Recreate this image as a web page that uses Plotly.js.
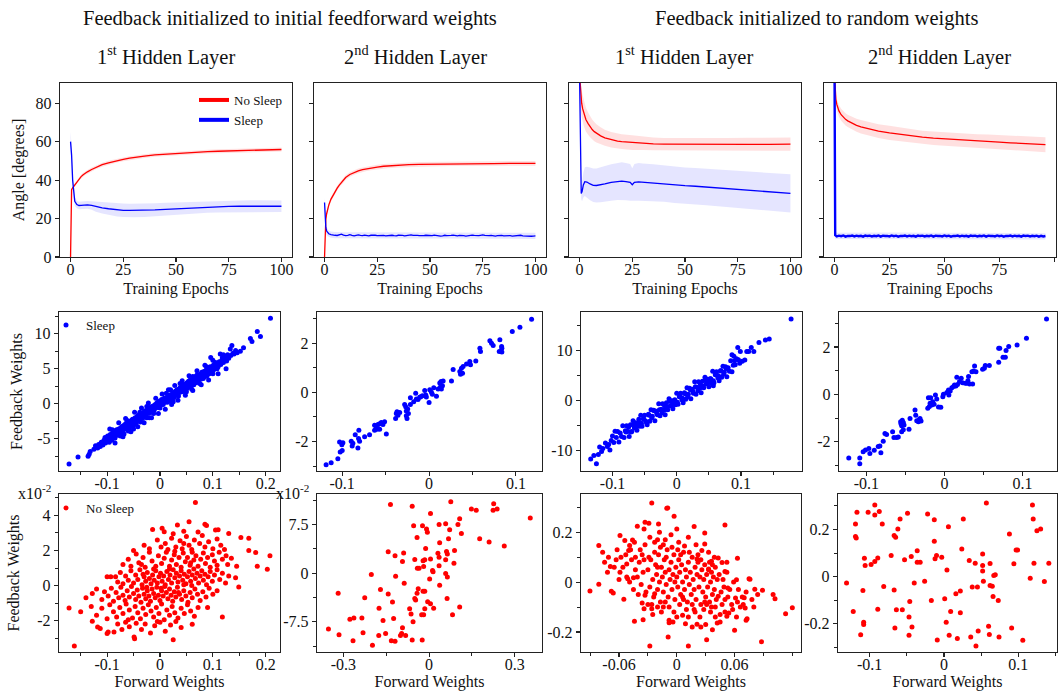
<!DOCTYPE html>
<html>
<head>
<meta charset="utf-8">
<script src="https://cdn.plot.ly/plotly-3.0.1.min.js"></script>
<style>html,body{margin:0;padding:0;background:#fff}#chart{width:1063px;height:692px}</style>
</head>
<body>
<div id="chart"></div>
<script>
// ---------------- Row 1: angle vs training epochs ----------------
// Panel 1 (feedback = initial feedforward, 1st hidden layer)
const p1Epochs = [0,0.5,1,2,3,4,5,6,7,8,10,12,15,18,20,22,25,28,30,35,40,45,50,55,60,65,70,75,80,85,90,95,100];
const p1NoSleep = [0,35,36,37.5,39,40.5,41.8,42.8,43.6,44.3,45.5,46.6,48,49,49.6,50.1,50.8,51.4,51.8,52.5,53.1,53.5,53.9,54.2,54.5,54.8,55,55.2,55.4,55.6,55.7,55.8,55.9];
const p1NoSleepSd = [0,0.8,0.8,0.9,0.9,0.9,1,1,1,1,1,1,1,1,1,1,1,1,1,1,1,1,1,1,1,1,1,1,1,1,1,1,1];
const p1Sleep = [60,53,40,29,27.3,26.8,26.9,27,27,27.1,26.8,26.2,25.6,25.1,24.8,24.5,24.3,24.2,24.2,24.3,24.5,24.8,25.1,25.4,25.7,26,26.2,26.3,26.4,26.5,26.5,26.4,26.4];
const p1SleepSd = [5,5,4,2.5,2,2,2,2,2,2,2.2,2.6,3,3.2,3.3,3.4,3.5,3.5,3.5,3.5,3.5,3.4,3.3,3.2,3.1,3,3,3,3,3,3,3,3];

// Panel 2 (feedback = initial feedforward, 2nd hidden layer)
const p2Epochs = [0,0.3,0.6,1,1.5,2,3,4,5,6,7,8,10,12,14,16,18,20,22,25,28,30,35,40,45,50,60,70,80,90,100];
const p2NoSleep = [0,14,19.5,22.5,25,27,30,32.2,34,35.8,37.4,38.9,41.3,42.9,44,44.8,45.4,45.9,46.3,46.8,47.2,47.4,47.8,48,48.2,48.3,48.5,48.6,48.6,48.7,48.7];
const p2NoSleepSd = [0,1,1,1.2,1.2,1.2,1.2,1.2,1.2,1.2,1.2,1.2,1.2,1.2,1.2,1.2,1.2,1.2,1.2,1.2,1.2,1.2,1.2,1.2,1.2,1.2,1.2,1.2,1.2,1.2,1.2];
const p2SleepEpochs = [0,0.3,0.6,1,1.5,2,3,4,5,6,7,8,9,10,11,12,13,14,15,16,17,18,19,20,21,22,23,24,25,26,27,28,29,30,31,32,33,34,35,36,37,38,39,40,41,42,43,44,45,46,47,48,49,50,51,52,53,54,55,56,57,58,59,60,61,62,63,64,65,66,67,68,69,70,71,72,73,74,75,76,77,78,79,80,81,82,83,84,85,86,87,88,89,90,91,92,93,94,95,96,97,98,99,100];
const p2Sleep = [28.3,20,15.5,13.5,12.6,12.1,11.6,
  11.6,11.3,11.2,11.5,11.9,11.4,11.1,11.3,11.6,11.2,
  11.0,11.3,11.5,11.2,11.1,11.4,11.2,11.0,11.3,11.5,
  11.3,11.1,11.2,11.4,11.2,11.0,11.2,11.5,11.3,11.1,
  11.0,11.3,11.4,11.2,11.0,11.1,11.3,11.5,11.2,11.0,
  11.2,11.1,10.9,11.1,11.3,11.2,11.0,11.1,11.4,11.2,
  11.1,10.9,11.0,11.3,11.1,11.0,11.2,11.4,11.1,11.0,
  11.2,11.3,11.1,10.9,11.1,11.2,11.4,11.2,11.0,11.1,
  11.3,11.5,11.2,11.0,11.1,11.2,11.0,10.9,11.1,11.3,
  11.2,11.0,11.1,11.3,11.1,10.9,11.0,11.2,11.1,11.3,
  11.0,10.9,11.1,11.0,10.8,10.9,11.0];
const p2SleepBandEpochs = [0,0.3,0.6,1,1.5,2,3,5,10,20,30,40,50,60,70,80,90,100];
const p2SleepBandHi = [31,24,18,15.5,14.5,13.8,13.2,13,12.9,12.9,12.8,12.8,12.7,12.7,12.7,12.7,12.6,12.6];
const p2SleepBandLo = [25,16,13,11.5,10.8,10.4,10,9.8,9.7,9.7,9.6,9.6,9.6,9.5,9.5,9.5,9.5,9.4];

// Panel 3 (feedback = random, 1st hidden layer)
const p3NoSleepEpochs = [0,0.3,0.6,1,1.5,2,3,4,5,6,7,8,10,12,15,18,20,25,30,35,40,50,60,70,80,90,100];
const p3NoSleep = [95,88,83,80,77,75,71.5,69.5,67.8,66.3,65.2,64.3,63,62,61,60.3,60,59.5,59.1,58.8,58.7,58.6,58.6,58.6,58.6,58.6,58.7];
const p3NoSleepSd = [5,6,7,7,7,6.8,6.2,5.8,5.5,5.2,5,4.8,4.5,4.2,4,3.9,3.8,3.8,3.5,3.3,3.2,3.2,3.2,3.3,3.4,3.4,3.5];
const p3SleepEpochs = [0,0.3,0.8,1.2,1.8,2.5,3.5,5,6.5,8,10,12,15,18,20,22,24,25,26,28,30,35,40,45,50,55,60,65,70,75,80,85,90,95,100];
const p3Sleep = [95,60,33,34,37.5,39.2,39,38,37.3,37.2,37.5,38,38.8,39.4,39.5,39.2,38.8,37.6,38.8,39.1,38.9,38.7,38.2,37.6,37.1,36.8,36.4,36,35.6,35.2,34.8,34.4,34,33.5,33.1];
const p3SleepSd = [5,5,3,5,6.5,7.5,8,8.5,8.7,8.8,9,9.3,9.5,9.7,9.8,9.7,9.6,8.6,9.6,9.8,9.7,9.6,9.5,9.5,9.5,9.5,9.5,9.5,9.6,9.6,9.7,9.7,9.8,9.8,9.9];

// Panel 4 (feedback = random, 2nd hidden layer)
const p4NoSleepEpochs = [0,0.3,0.6,1,1.5,2,3,4,5,6,8,10,12,15,18,20,25,28,30,32,35,40,45,50,55,60,65,70,75,80,85,90,96];
const p4NoSleep = [95,86,82,79.5,77.4,76,74,72.7,71.6,70.8,69.5,68.5,67.7,66.8,66,65.5,64.6,64.1,63.8,63.4,62.9,62.3,61.8,61.4,61,60.6,60.3,60,59.7,59.4,59.1,58.8,58.4];
const p4NoSleepSd = [3,3,3,3,3,3,3.1,3.1,3.2,3.2,3.3,3.4,3.5,3.5,3.6,3.6,3.7,3.7,3.6,3.4,3.4,3.4,3.5,3.5,3.5,3.6,3.6,3.7,3.7,3.8,3.8,3.9,3.9];
const p4SleepEpochs = [0,0.3,1,2,3,4,5,6,7,8,9,10,11,12,13,14,15,16,17,18,19,20,21,22,23,24,25,26,27,28,29,30,31,32,33,34,35,36,37,38,39,40,41,42,43,44,45,46,47,48,49,50,51,52,53,54,55,56,57,58,59,60,61,62,63,64,65,66,67,68,69,70,71,72,73,74,75,76,77,78,79,80,81,82,83,84,85,86,87,88,89,90,91,92,93,94,95,96];
const p4Sleep = [95,11.3,
  10.7,11.1,10.8,11.2,10.6,11.0,10.9,11.2,10.7,11.1,
  10.8,11.0,10.6,11.2,10.9,11.1,10.7,11.0,10.8,11.2,
  10.6,11.1,10.9,11.0,10.7,11.2,10.8,11.1,10.6,11.0,
  10.9,11.2,10.7,11.1,10.8,11.0,10.6,11.2,10.9,11.1,
  10.7,11.0,10.8,11.2,10.6,11.1,10.9,11.0,10.7,11.2,
  10.8,11.1,10.6,11.0,10.9,11.2,10.7,11.1,10.8,11.0,
  10.6,11.2,10.9,11.1,10.7,11.0,10.8,11.2,10.6,11.1,
  10.9,11.0,10.7,11.2,10.8,11.1,10.6,11.0,10.9,11.2,
  10.7,11.1,10.8,11.0,10.6,11.2,10.9,11.1,10.7,11.0,
  10.8,11.1,10.6,11.0,10.7,10.9];
const p4SleepBandEpochs = [0,0.3,1,10,20,30,40,50,60,70,80,90,96];
const p4SleepBandHi = [95,13,12.6,12.7,12.6,12.7,12.6,12.6,12.5,12.6,12.5,12.5,12.4];
const p4SleepBandLo = [90,9.5,9.3,9.3,9.2,9.3,9.2,9.2,9.2,9.2,9.1,9.1,9.1];

// ---------------- Row 2: Sleep, feedback vs forward weights ----------------
const r2p1Sleep = [[-0.172,-8.6],[-0.155,-7.6],[-0.136,-7.5],[-0.134,-7.2],[-0.132,-6.8],[-0.125,-6.5],[-0.122,-6.0],[-0.118,-6.3],[-0.116,-5.8],[-0.113,-6.1],[-0.111,-5.5],[-0.108,-5.9],[-0.106,-5.2],[-0.104,-4.8],[-0.103,-5.6],[-0.1,-5.3],[-0.099,-4.6],[-0.097,-5.0],[-0.096,-5.5],[-0.094,-4.4],[-0.093,-4.9],[-0.091,-5.2],[-0.09,-4.2],[-0.089,-4.7],[-0.087,-4.4],[-0.086,-3.9],[-0.085,-4.9],[-0.083,-4.2],[-0.082,-3.7],[-0.081,-4.5],[-0.08,-4.0],[-0.078,-3.6],[-0.077,-4.3],[-0.076,-3.9],[-0.074,-3.4],[-0.073,-4.1],[-0.072,-3.7],[-0.071,-3.2],[-0.07,-3.9],[-0.069,-3.5],[-0.068,-4.3],[-0.067,-3.0],[-0.066,-3.6],[-0.065,-3.3],[-0.064,-2.8],[-0.063,-3.5],[-0.062,-3.1],[-0.061,-2.6],[-0.06,-3.3],[-0.059,-2.9],[-0.058,-3.6],[-0.057,-2.5],[-0.056,-2.9],[-0.055,-3.2],[-0.054,-2.4],[-0.053,-2.8],[-0.052,-2.2],[-0.051,-2.7],[-0.05,-3.1],[-0.049,-2.3],[-0.048,-2.6],[-0.047,-2.0],[-0.046,-2.5],[-0.045,-2.8],[-0.044,-2.1],[-0.043,-1.8],[-0.042,-2.4],[-0.041,-2.0],[-0.04,-1.6],[-0.039,-2.2],[-0.038,-1.9],[-0.037,-2.6],[-0.036,-1.5],[-0.035,-1.9],[-0.034,-1.4],[-0.033,-2.1],[-0.032,-1.7],[-0.031,-1.2],[-0.03,-1.8],[-0.029,-1.5],[-0.028,-1.0],[-0.027,-1.6],[-0.026,-1.2],[-0.025,-2.0],[-0.024,-0.9],[-0.023,-1.4],[-0.022,-1.1],[-0.021,-0.7],[-0.02,-1.3],[-0.019,-0.9],[-0.018,-0.5],[-0.017,-1.2],[-0.016,-0.8],[-0.015,-0.4],[-0.014,-1.0],[-0.013,-0.6],[-0.012,-0.3],[-0.011,-0.9],[-0.01,-0.5],[-0.009,-0.1],[-0.008,-0.6],[-0.007,-0.3],[-0.006,0.1],[-0.005,-0.5],[-0.004,-0.1],[-0.003,0.3],[-0.002,-0.3],[-0.001,0.0],[0.0,0.4],[0.001,-0.2],[0.002,0.2],[0.003,0.6],[0.004,0.0],[0.005,0.4],[0.006,-0.1],[0.007,0.5],[0.008,0.8],[0.009,0.2],[0.01,0.6],[0.011,0.3],[0.012,0.9],[0.013,0.5],[0.014,0.2],[0.015,1.0],[0.016,0.6],[0.017,1.2],[0.018,0.4],[0.019,0.9],[0.02,1.3],[0.021,0.7],[0.022,1.1],[0.023,0.5],[0.024,1.5],[0.025,1.0],[0.026,1.6],[0.027,0.9],[0.028,1.4],[0.029,1.8],[0.03,1.2],[0.031,1.6],[0.032,2.0],[0.033,1.3],[0.034,1.8],[0.035,1.1],[0.036,2.1],[0.037,1.6],[0.038,2.3],[0.039,1.8],[0.04,2.0],[0.041,2.5],[0.042,1.7],[0.043,2.2],[0.044,2.7],[0.045,2.0],[0.046,2.4],[0.047,1.9],[0.048,2.8],[0.049,2.3],[0.05,2.6],[0.051,3.0],[0.052,2.2],[0.053,2.7],[0.054,3.2],[0.055,2.5],[0.056,2.9],[0.057,3.4],[0.058,2.6],[0.059,3.1],[0.06,2.8],[0.061,3.5],[0.062,3.0],[0.063,3.3],[0.064,2.7],[0.065,3.6],[0.066,3.2],[0.067,3.9],[0.068,3.0],[0.069,3.5],[0.07,4.1],[0.071,3.3],[0.072,3.7],[0.073,3.4],[0.074,4.0],[0.075,3.6],[0.076,4.2],[0.077,3.5],[0.078,3.9],[0.079,4.5],[0.08,3.8],[0.081,4.3],[0.082,3.6],[0.083,4.6],[0.084,4.1],[0.085,4.4],[0.086,3.9],[0.087,4.8],[0.088,4.3],[0.089,4.0],[0.09,4.9],[0.091,4.5],[0.092,5.1],[0.093,4.3],[0.094,4.8],[0.095,5.3],[0.096,6.6],[0.097,4.6],[0.098,5.0],[0.1,5.4],[0.101,4.8],[0.102,5.6],[0.104,5.1],[0.105,5.9],[0.106,5.4],[0.108,5.0],[0.109,5.7],[0.11,5.3],[0.112,6.0],[0.114,7.1],[0.115,5.6],[0.117,6.2],[0.118,6.6],[0.12,5.9],[0.122,6.4],[0.124,6.8],[0.126,6.1],[0.128,7.0],[0.13,6.5],[0.133,7.8],[0.134,6.9],[0.136,8.3],[0.138,7.2],[0.14,7.1],[0.143,7.6],[0.146,7.3],[0.152,7.5],[0.158,8.0],[0.171,9.3],[0.174,8.9],[0.184,10.3],[0.19,9.6],[0.209,12.2],
  [-0.09,-3.7],[-0.075,-4.6],[-0.062,-2.4],[-0.05,-3.6],[-0.038,-1.2],[-0.025,-0.4],[-0.012,-1.4],[0.0,-0.6],[0.012,1.5],[0.025,0.3],[0.038,2.9],[0.05,1.7],[0.062,3.9],[0.075,2.9],[0.088,5.3],[0.1,4.3],[0.02,2.0],[-0.02,-2.0],[0.06,2.1],[-0.06,-3.9],
  [-0.095,-3.6],[-0.085,-5.6],[-0.078,-2.7],[-0.07,-4.7],[-0.065,-2.1],[-0.055,-4.0],[-0.048,-1.2],[-0.042,-3.3],[-0.035,-0.6],[-0.03,-2.7],[-0.022,0.1],[-0.016,-2.0],[-0.008,0.8],[-0.003,-1.4],[0.004,1.4],[0.01,-0.8],[0.016,2.0],[0.022,-0.1],[0.028,2.6],[0.034,0.5],[0.042,3.3],[0.048,1.2],[0.055,4.0],[0.062,1.9],[0.07,4.7],[0.078,2.7],[0.085,5.5],[0.092,3.4],[0.1,6.2],[0.11,4.3],[0.12,7.0],[0.125,5.0]];

const r2p2Sleep = [[-0.1185,-2.95],[-0.1127,-2.86],[-0.105,-2.70],[-0.103,-2.02],[-0.1004,-2.13],[-0.0992,-2.05],[-0.1023,-2.43],[-0.1,-2.37],[-0.0896,-1.99],[-0.0877,-2.07],[-0.0885,-2.18],[-0.085,-1.72],[-0.0819,-2.26],[-0.0812,-1.88],[-0.08,-1.99],[-0.0808,-1.54],[-0.0742,-1.81],[-0.0685,-1.72],[-0.0627,-1.54],[-0.0627,-1.34],[-0.0608,-1.41],[-0.06,-1.5],[-0.0588,-1.31],[-0.0569,-1.28],[-0.055,-1.23],[-0.0531,-1.31],[-0.0512,-1.2],[-0.0569,-1.5],[-0.0492,-1.69],[-0.0385,-1.06],[-0.0377,-0.86],[-0.0369,-0.79],[-0.0358,-0.93],[-0.0338,-0.82],[-0.0281,-0.49],[-0.0269,-0.59],[-0.0262,-0.76],[-0.0262,-0.95],[-0.0254,-1.06],[-0.0246,-0.68],[-0.0238,-0.86],[-0.0215,-0.22],[-0.0215,-0.49],[-0.0177,-0.38],[-0.0154,-0.04],[-0.0146,-0.27],[-0.0127,-0.29],[-0.0108,-0.2],[-0.0096,-0.18],[-0.0077,-0.14],[-0.005,0.08],[-0.0038,-0.11],[-0.0031,-0.19],[0,-0.41],[0.0008,0.11],[0.0027,0],[0.0038,-0.08],[0.0054,0.19],[0.0085,-0.16],[0.0104,0.14],[0.0131,0.22],[0.0142,0.14],[0.0154,0.27],[0.0138,0.44],[0.0162,0.46],[0.0123,0.38],[0.0258,0.46],[0.0277,0.93],[0.0354,0.85],[0.0362,0.74],[0.0373,0.98],[0.0392,1.05],[0.0385,0.78],[0.0431,1.15],[0.0469,1.26],[0.0477,1.12],[0.0538,1.28],[0.0585,1.8],[0.0592,1.66],[0.07,2.1],[0.0719,2.0],[0.0738,1.91],[0.0815,2.14],[0.0808,1.66],[0.0835,1.87],[0.0838,1.64],[0.0838,1.8],[0.0958,2.48],[0.1046,2.65],[0.118,2.97]];

const r2p3Sleep = [[-0.1,-7.2],[-0.098,-8.5],[-0.096,-6.2],[-0.094,-7.5],[-0.092,-6.3],[-0.09,-8.4],[-0.088,-6.6],[-0.086,-7.3],[-0.084,-5.1],[-0.082,-7.5],[-0.08,-6.1],[-0.078,-5.1],[-0.076,-6.3],[-0.074,-7.3],[-0.072,-4.9],[-0.07,-6.3],[-0.068,-4.1],[-0.066,-5.5],[-0.064,-4.5],[-0.062,-6.0],[-0.06,-4.5],[-0.058,-5.2],[-0.056,-3.0],[-0.054,-5.2],[-0.052,-3.7],[-0.05,-3.0],[-0.048,-4.2],[-0.046,-4.9],[-0.044,-2.8],[-0.042,-4.2],[-0.04,-1.9],[-0.038,-3.2],[-0.036,-2.0],[-0.034,-4.1],[-0.032,-2.2],[-0.03,-2.9],[-0.028,-0.7],[-0.026,-3.1],[-0.024,-1.8],[-0.022,-0.7],[-0.02,-2.0],[-0.018,-2.9],[-0.016,-0.5],[-0.014,-1.9],[-0.012,0.3],[-0.01,-1.1],[-0.008,-0.1],[-0.006,-1.7],[-0.004,-0.1],[-0.002,-0.9],[0.0,1.4],[0.002,-0.8],[0.004,0.7],[0.006,1.4],[0.008,0.1],[0.01,-0.5],[0.012,1.5],[0.014,0.2],[0.016,2.5],[0.018,1.2],[0.02,2.4],[0.022,0.3],[0.024,2.2],[0.026,1.4],[0.028,3.7],[0.03,1.2],[0.032,2.6],[0.034,3.7],[0.036,2.4],[0.038,1.5],[0.04,3.8],[0.042,2.5],[0.044,4.6],[0.046,3.3],[0.048,4.2],[0.05,2.7],[0.052,4.3],[0.054,3.5],[0.056,5.8],[0.058,3.5],[0.06,5.1],[0.062,5.7],[0.064,4.5],[0.066,3.9],[0.068,5.9],[0.07,4.6],[0.072,6.8],[0.074,5.6],[0.076,6.7],[0.078,4.7],[0.08,6.5],[0.082,5.8],[0.084,7.9],[0.086,5.7],[0.088,7.0],[0.09,7.9],
  [-0.079,-6.4],[-0.075,-5.4],[-0.071,-6.4],[-0.067,-4.9],[-0.063,-5.3],[-0.059,-3.8],[-0.055,-4.6],[-0.051,-3.8],[-0.047,-4.5],[-0.043,-3.0],[-0.039,-3.5],[-0.035,-2.1],[-0.031,-2.7],[-0.027,-1.9],[-0.023,-2.5],[-0.019,-1.1],[-0.015,-1.4],[-0.011,-0.2],[-0.007,-0.9],[-0.003,0.1],[0.001,-0.4],[0.005,1.0],[0.009,0.4],[0.013,1.3],[0.017,0.7],[0.021,2.1],[0.025,1.8],[0.029,2.7],[0.033,1.9],[0.037,3.2],[0.041,2.8],[0.045,4.1],[0.049,3.5],[0.053,4.3],[0.057,3.9],[0.061,5.2],[0.065,4.9],[0.069,5.9],[0.073,5.2],[0.077,6.3],
  [-0.1339,-11.8],[-0.125,-12.75],[-0.129,-11.1],[-0.122,-10.9],[-0.117,-10.3],[-0.115,-9.7],[-0.108,-9.3],[-0.106,-8.9],[-0.104,-10.0],[-0.111,-8.6],[-0.102,-8.1],[-0.12,-9.4],
  [0.178,16.3],[0.144,12.3],[0.138,12.1],[0.128,11.6],[0.116,10.6],[0.12,9.8],[0.112,9.8],[0.109,9.8],[0.095,10.6],[0.099,9.8],[0.086,9.1],[0.089,8.8],[0.106,8.05],[0.102,7.8],[0.096,8.1],[0.091,7.1],[0.057,2.9],[0.093,8.3],[0.098,7.4]];

const r2p4Sleep = [[-0.1225,-2.69],[-0.1084,-2.93],[-0.1084,-2.69],[-0.1041,-2.43],[-0.1011,-2.35],[-0.0968,-2.29],[-0.0955,-2.5],[-0.0899,-2.36],[-0.0848,-2.2],[-0.0827,-2.18],[-0.0814,-2.47],[-0.0784,-1.98],[-0.0762,-1.65],[-0.0741,-1.7],[-0.0664,-1.58],[-0.0647,-1.82],[-0.0612,-1.82],[-0.0591,-1.8],[-0.0548,-1.58],[-0.0527,-1.5],[-0.0454,-1.48],[-0.0561,-1.16],[-0.0557,-1.24],[-0.0548,-1.33],[-0.0527,-1.19],[-0.0518,-1.3],[-0.054,-1.09],[-0.0441,-1.02],[-0.0377,-0.66],[-0.0368,-0.88],[-0.0355,-1.12],[-0.0334,-1.16],[-0.0321,-1.06],[-0.0313,-1.02],[-0.03,-1.13],[-0.0214,-0.59],[-0.0193,-0.51],[-0.0184,-0.38],[-0.0206,-0.14],[-0.0176,-0.14],[-0.0163,-0.45],[-0.015,-0.31],[-0.0133,-0.42],[-0.0116,-0.03],[-0.0099,-0.2],[-0.0077,-0.54],[-0.0047,-0.55],[-0.0021,-0.1],[-0.0013,0],[0.003,0.08],[0.0051,0.18],[0.0073,0.14],[0.0056,-0.03],[0.0094,0.28],[0.0116,0.33],[0.0128,0.4],[0.0146,0.35],[0.0158,0.72],[0.0167,0.42],[0.0193,0.54],[0.0214,0.68],[0.0231,0.49],[0.0266,0.47],[0.0287,0.47],[0.03,0.57],[0.0308,0.75],[0.0321,0.44],[0.0351,0.96],[0.036,0.44],[0.0373,0.99],[0.0385,1.2],[0.0403,0.96],[0.0488,1.06],[0.051,1.1],[0.0522,1.22],[0.0574,1.22],[0.0694,1.36],[0.0694,1.95],[0.0707,1.95],[0.0749,1.57],[0.0779,1.57],[0.0788,1.85],[0.0822,2.02],[0.0929,2.09],[0.1049,2.37],[0.1306,3.18]];

// ---------------- Row 3: No Sleep, feedback vs forward weights ----------------
const r3p1NoSleep = [[0.067,4.74],[-0.014,3.2],[0.004,3.26],[0.008,3.07],[0.033,3.45],[0.055,3.64],[0.085,3.49],[0.088,3.42],[0.105,3.17],[0.11,3.18],[0.025,2.95],[0.045,3.1],[0.072,3.05],[0.13,2.97],
  [-0.03,2.3],[-0.02,2.1],[-0.005,2.6],[0.01,2.4],[0.015,2.05],[0.022,2.7],[0.03,2.2],[0.038,2.55],[0.042,2.1],[0.05,2.8],[0.055,2.3],[0.06,2.05],[0.065,2.6],[0.075,2.4],[0.08,2.85],[0.085,2.2],[0.092,2.5],[0.1,2.1],[0.108,2.65],[0.115,2.3],[0.122,2.05],[0.153,2.74],[0.168,2.7],[0.168,2.0],[0.181,1.89],[-0.05,2.0],[0.002,2.2],[0.045,2.4],
  [-0.07,1.2],[-0.06,1.5],[-0.055,1.1],[-0.045,1.8],[-0.04,1.3],[-0.032,1.6],[-0.028,1.05],[-0.02,1.9],[-0.015,1.4],[-0.008,1.1],[-0.003,1.7],[0.003,1.25],[0.008,1.55],[0.012,1.9],[0.018,1.1],[0.022,1.45],[0.027,1.75],[0.031,1.2],[0.036,1.6],[0.04,1.05],[0.044,1.85],[0.048,1.35],[0.052,1.6],[0.057,1.15],[0.061,1.9],[0.064,1.45],[0.068,1.7],[0.072,1.1],[0.077,1.5],[0.082,1.85],[0.086,1.25],[0.09,1.6],[0.095,1.05],[0.099,1.75],[0.103,1.4],[0.108,1.15],[0.112,1.9],[0.118,1.5],[0.125,1.7],[0.128,1.2],[0.135,1.55],[0.145,1.1],[0.184,1.1],[0.208,1.7],[0.028,1.95],[0.058,1.3],[-0.035,1.2],
  [-0.1,0.5],[-0.093,0.5],[-0.084,0.5],[-0.08,0.2],[-0.075,0.75],[-0.07,0.1],[-0.065,0.55],[-0.06,0.3],[-0.055,0.85],[-0.05,0.15],[-0.046,0.6],[-0.042,0.35],[-0.038,0.9],[-0.034,0.05],[-0.03,0.5],[-0.027,0.25],[-0.024,0.75],[-0.02,0.4],[-0.017,0.1],[-0.014,0.6],[-0.011,0.3],[-0.008,0.85],[-0.005,0.15],[-0.002,0.5],[0.001,0.7],[0.004,0.25],[0.007,0.55],[0.01,0.05],[0.013,0.8],[0.016,0.35],[0.019,0.6],[0.022,0.15],[0.025,0.9],[0.028,0.45],[0.031,0.7],[0.034,0.2],[0.037,0.55],[0.04,0.85],[0.043,0.3],[0.046,0.65],[0.049,0.1],[0.052,0.5],[0.055,0.8],[0.058,0.25],[0.061,0.6],[0.064,0.95],[0.067,0.4],[0.07,0.7],[0.073,0.15],[0.076,0.55],[0.079,0.85],[0.082,0.3],[0.085,0.65],[0.088,0.05],[0.091,0.5],[0.095,0.8],[0.099,0.25],[0.103,0.6],[0.108,0.9],[0.113,0.35],[0.118,0.7],[0.124,0.15],[0.13,0.55],[0.143,0.44],[0.203,0.93],[-0.012,0.95],[0.018,0.95],[0.045,0.05],[0.06,0.0],[-0.032,0.65],
  [-0.14,-0.69],[-0.128,-0.46],[-0.12,-0.2],[-0.11,-0.8],[-0.105,-0.35],[-0.098,-0.6],[-0.092,-0.15],[-0.088,-0.9],[-0.083,-0.4],[-0.078,-0.7],[-0.074,-0.1],[-0.07,-0.55],[-0.066,-0.85],[-0.062,-0.3],[-0.058,-0.65],[-0.054,-0.05],[-0.05,-0.45],[-0.046,-0.8],[-0.043,-0.25],[-0.04,-0.6],[-0.036,-0.95],[-0.033,-0.15],[-0.03,-0.5],[-0.027,-0.75],[-0.024,-0.3],[-0.021,-0.6],[-0.018,-0.9],[-0.015,-0.2],[-0.012,-0.45],[-0.009,-0.7],[-0.006,-0.1],[-0.003,-0.55],[0.0,-0.85],[0.003,-0.3],[0.006,-0.6],[0.009,-0.05],[0.012,-0.4],[0.015,-0.75],[0.018,-0.2],[0.021,-0.55],[0.024,-0.9],[0.027,-0.35],[0.03,-0.65],[0.033,-0.1],[0.037,-0.5],[0.041,-0.8],[0.045,-0.3],[0.049,-0.6],[0.053,-0.95],[0.057,-0.4],[0.061,-0.7],[0.066,-0.2],[0.071,-0.5],[0.076,-0.85],[0.081,-0.35],[0.087,-0.65],[0.093,-0.15],[0.1,-0.5],[0.108,-0.3],[0.149,-0.08],[-0.025,-0.1],[0.002,-0.15],[0.035,-0.4],
  [-0.15,-1.5],[-0.13,-1.2],[-0.12,-1.7],[-0.11,-1.3],[-0.1,-1.9],[-0.095,-1.1],[-0.088,-1.5],[-0.082,-1.8],[-0.076,-1.25],[-0.07,-1.6],[-0.064,-1.05],[-0.058,-1.4],[-0.052,-1.85],[-0.047,-1.2],[-0.042,-1.55],[-0.037,-1.9],[-0.032,-1.3],[-0.027,-1.65],[-0.022,-1.1],[-0.017,-1.45],[-0.012,-1.8],[-0.007,-1.25],[-0.002,-1.6],[0.003,-1.05],[0.008,-1.95],[0.013,-1.4],[0.018,-1.7],[0.023,-1.2],[0.028,-1.55],[0.034,-1.85],[0.04,-1.3],[0.046,-1.6],[0.052,-1.1],[0.058,-1.45],[0.065,-1.75],[0.072,-1.25],[0.09,-1.25],[0.118,-1.79],[-0.06,-1.95],[-0.172,-1.28],
  [-0.128,-2.04],[-0.118,-2.36],[-0.113,-2.45],[-0.1,-2.74],[-0.098,-2.65],[-0.087,-2.65],[-0.08,-2.2],[-0.072,-2.5],[-0.065,-2.1],[-0.058,-2.35],[-0.049,-2.93],[-0.048,-3.03],[-0.045,-2.15],[-0.035,-2.5],[-0.028,-2.2],[-0.018,-2.7],[-0.01,-2.3],[0.0,-2.1],[0.01,-2.6],[0.02,-2.25],[0.03,-2.05],[0.04,-2.4],[0.061,-2.21],[-0.005,-2.05],
  [-0.162,-3.45],[0.025,-3.09]];

const r3p2NoSleep = [[-0.135,10.6],[-0.059,10.3],[0.076,11.0],[0.005,9.2],[0.148,9.9],[0.165,9.7],[0.226,10.7],[0.224,9.7],[0.238,9.9],[0.354,8.5],[-0.054,7.3],[-0.023,7.3],[-0.009,6.8],[-0.006,6.3],[0.035,7.5],[0.058,7.6],[0.101,7.5],[0.107,8.4],[0.072,6.7],[0.113,6.1],[-0.042,5.5],[0.037,4.7],[0.068,5.3],[0.177,5.3],[0.21,4.8],[0.263,4.2],[-0.143,3.3],[-0.119,2.7],[-0.089,3.1],[-0.093,1.8],[-0.05,2.1],[-0.012,3.8],[-0.021,1.9],[-0.015,2.05],[0.005,2.2],[0.031,3.08],[0.035,2.46],[0.061,3.33],[0.064,2.97],[0.058,2.05],[0.089,3.49],[0.087,1.54],[-0.041,0.77],[-0.035,0.77],[-0.019,1.03],[0.035,1.13],[0.012,0.41],[0.014,0.2],[-0.202,-0.2],[-0.117,-0.46],[0.058,-0.05],[0.064,-0.6],[0.002,-0.9],[-0.087,-1.54],[0.037,-1.85],[-0.17,-2.5],[-0.038,-2.4],[-0.021,-2.8],[-0.015,-2.8],[-0.318,-3.1],[-0.143,-3.2],[-0.042,-3.1],[-0.225,-3.8],[-0.05,-3.9],[-0.047,-4.15],[0.063,-3.9],[-0.128,-4.46],[-0.005,-4.4],[0.005,-4.7],[-0.175,-5.4],[-0.068,-5.5],[-0.015,-5.5],[0.016,-5.4],[0.107,-5.2],[-0.063,-6.3],[-0.026,-6.4],[-0.019,-6.4],[0.082,-6.4],[-0.263,-6.9],[-0.277,-7.1],[-0.235,-6.9],[-0.161,-7.3],[-0.124,-7.0],[-0.056,-7.5],[-0.352,-8.6],[-0.315,-9.5],[-0.231,-9.2],[-0.266,-10.4],[-0.198,-11.1],[-0.176,-9.6],[-0.152,-9.3],[-0.132,-10.4],[-0.119,-10.5],[-0.1,-9.6],[-0.096,-9.3],[-0.093,-8.4],[-0.082,-9.6],[-0.059,-10.3],[-0.024,-10.3]];

const r3p3NoSleep = [[-0.0902,-0.036],[-0.081,-0.009],[-0.081,0.147],[-0.026,0.317],[-0.0104,0.296],[-0.0094,0.297],[-0.0028,0.264],[0.0,0.213],[0.018,0.223],[0.029,0.197],[0.05,0.229],[0.063,0.096],[0.12,-0.103],[0.113,-0.127],[0.102,-0.067],[0.1,-0.05],[0.088,-0.239],[0.089,-0.033],[0.081,-0.029],[0.084,-0.05],[0.075,0.013],[0.076,0.011],[0.06,-0.193],[0.062,0.009],[0.031,-0.231],[0.012,-0.256],[-0.028,-0.256],[-0.009,-0.22],[-0.044,-0.157],[-0.035,-0.151],[-0.068,-0.037],[-0.066,-0.044],[-0.055,-0.069],[-0.075,0.08],[-0.069,0.063],[-0.059,0.187],[-0.041,0.224],[-0.033,0.24],[-0.029,0.236],[-0.019,0.233],[-0.034,0.213],
  [-0.071,0.1],[-0.062,0.13],[-0.054,0.167],[-0.049,0.147],[-0.046,0.169],[-0.05,0.127],[-0.043,0.1],[-0.052,0.073],[-0.059,0.04],[-0.045,0.017],[-0.051,0.013],[-0.034,-0.107],[-0.036,-0.084],[-0.033,-0.053],[-0.026,-0.107],[-0.023,-0.047],[-0.016,-0.12],[-0.008,-0.153],[-0.008,-0.163],[0.006,-0.133],[0.009,-0.167],[0.016,-0.18],[0.021,-0.169],[0.025,-0.18],[0.036,-0.1],[0.037,-0.191],[0.042,-0.164],[0.052,-0.137],[0.054,-0.124],[0.061,-0.064],[0.071,-0.104],[0.073,-0.147],[0.072,-0.153],[0.08,-0.1],[0.07,-0.063],[0.062,-0.14],[0.05,-0.12],[0.043,-0.057],[0.049,-0.02],[0.053,-0.024],[0.05,0.043],[0.047,0.079],[0.052,0.08],[0.043,0.097],[0.036,0.084],[0.033,0.053],[0.029,0.153],[0.026,0.127],[0.021,0.093],
  [-0.03,0.05],[-0.028,-0.02],[-0.027,0.09],[-0.025,0.01],[-0.024,-0.06],[-0.022,0.07],[-0.021,0.03],[-0.02,-0.03],[-0.019,0.11],[-0.018,0.0],[-0.017,-0.08],[-0.016,0.06],[-0.015,0.02],[-0.014,-0.04],[-0.013,0.09],[-0.012,0.04],[-0.011,-0.01],[-0.01,0.13],[-0.009,-0.06],[-0.008,0.05],[-0.007,0.01],[-0.006,0.08],[-0.005,-0.03],[-0.004,0.03],[-0.003,0.11],[-0.002,-0.07],[-0.001,0.06],[0.0,0.02],[0.001,-0.02],[0.002,0.09],[0.003,0.04],[0.004,-0.05],[0.005,0.07],[0.006,0.0],[0.007,0.12],[0.008,-0.03],[0.009,0.05],[0.01,0.02],[0.011,-0.08],[0.012,0.08],[0.013,-0.01],[0.014,0.04],[0.015,-0.05],[0.016,0.1],[0.017,0.01],[0.018,-0.03],[0.019,0.06],[0.02,-0.07],[0.021,0.03],[0.022,0.08],[0.023,-0.02],[0.024,0.02],[0.025,-0.09],[0.026,0.05],[0.027,-0.04],[0.028,0.01],[0.029,0.07],[0.03,-0.06],[0.031,0.03],[0.032,-0.02],[0.033,0.05],[0.034,-0.08],[0.035,0.0],[0.036,0.04],[0.037,-0.05],[0.038,0.02],[0.039,-0.03],[0.04,0.06],[0.041,-0.07],[0.042,0.01],
  [-0.029,0.1],[-0.026,-0.09],[-0.023,0.12],[-0.02,0.06],[-0.017,0.14],[-0.014,-0.1],[-0.011,0.1],[-0.008,-0.1],[-0.005,0.14],[-0.002,0.0],[0.001,0.13],[0.004,0.11],[0.007,-0.07],[0.01,-0.11],[0.013,0.12],[0.016,-0.09],[0.019,-0.12],[0.022,0.11],[0.025,0.09],[0.028,-0.11],[0.031,-0.09],[0.034,0.08],[0.037,0.07],[0.04,-0.1],[0.044,0.03],[0.046,-0.04],[0.048,0.01],[0.05,-0.07],[0.052,0.04],[0.055,-0.03],[0.057,-0.09],[0.059,0.0],[0.064,-0.03],[0.066,-0.1],[0.068,-0.06],[0.045,-0.13],[0.039,0.1],[0.002,0.16],[-0.012,0.17],[0.012,0.18],[-0.006,0.19],[0.008,0.145],[0.02,0.15],[0.033,0.12],
  [-0.035,0.04],[-0.037,-0.01],[-0.039,0.08],[-0.041,0.02],[-0.043,0.05],[-0.045,-0.03],[-0.047,0.09],[-0.049,0.0],[-0.053,0.11],[-0.056,0.06],[-0.058,0.1],[-0.06,0.01],[-0.063,0.09],[-0.065,0.06],[-0.072,0.04],[-0.077,0.12],[-0.033,0.15],[-0.038,0.13],[-0.032,-0.04],[-0.036,0.11],[-0.04,-0.05],[-0.048,0.13],[-0.052,0.02],[-0.034,0.09],[-0.044,0.16],[-0.028,0.18],[-0.023,0.16],[-0.018,0.2],[-0.014,0.15],[-0.02,0.17],
  [0.006,-0.06],[0.012,-0.14],[0.018,-0.11],[0.024,-0.14],[0.029,-0.08],[0.035,-0.12],[0.04,-0.14],[0.047,-0.09],[0.053,-0.06],[0.058,-0.11],[0.003,-0.09],[-0.003,-0.12],[-0.012,-0.08],[-0.02,-0.1],[-0.025,-0.13],[-0.03,-0.09],[0.063,-0.08],[0.069,-0.09],[0.072,-0.04],[0.078,-0.07],[0.045,-0.16],[0.03,-0.17],[-0.004,-0.16],[0.0,-0.14]];

const r3p4NoSleep = [[-0.131,-0.028],[-0.117,0.273],[-0.119,0.223],[-0.119,0.17],[-0.118,0.164],[-0.122,-0.149],[-0.112,-0.248],[-0.109,-0.059],[-0.108,-0.194],[-0.108,-0.204],[-0.107,0.078],[-0.106,0.047],[-0.102,0.273],[-0.098,0.051],[-0.093,0.064],[-0.089,0.079],[-0.093,0.304],[-0.093,0.262],[-0.087,0.277],[-0.089,-0.139],[-0.083,0.223],[-0.081,-0.042],[-0.071,0.089],[-0.067,-0.057],[-0.067,0.174],[-0.065,0.167],[-0.062,0.202],[-0.066,-0.219],[-0.064,-0.141],[-0.059,0.245],[-0.056,-0.141],[-0.053,0.071],[-0.049,0.269],[-0.046,-0.106],[-0.047,-0.25],[-0.047,-0.172],[-0.044,0.085],[-0.043,-0.215],[-0.04,-0.028],[-0.036,0.061],[-0.032,0.061],[-0.036,0.11],[-0.026,-0.02],[-0.022,0.266],[-0.017,-0.102],[-0.013,0.242],[-0.013,0.15],[-0.012,0.076],[-0.01,0.089],[-0.009,-0.27],[-0.003,0.082],[0.001,-0.095],[0.003,-0.194],[0.004,0.028],[0.006,0.212],[0.007,-0.25],[0.009,-0.149],[0.016,-0.073],[0.022,-0.062],[0.018,-0.264],[0.022,-0.154],[0.024,0.117],[0.026,0.245],[0.036,-0.257],[0.034,0.068],[0.038,-0.045],[0.045,-0.045],[0.043,-0.296],[0.046,-0.232],[0.042,0.057],[0.052,0.096],[0.052,0.047],[0.052,0.023],[0.053,-0.02],[0.057,0.313],[0.06,-0.212],[0.061,-0.247],[0.062,0.055],[0.062,-0.038],[0.065,-0.041],[0.067,0.004],[0.069,0.008],[0.066,-0.085],[0.073,-0.102],[0.074,-0.257],[0.088,0.181],[0.091,-0.219],[0.094,0.054],[0.097,0.113],[0.099,0.113],[0.106,-0.271],[0.116,-0.007],[0.119,0.304],[0.12,0.245],[0.121,0.057],[0.125,0.195],[0.13,0.202],[0.135,-0.021],[0.141,0.057]];

// ---------------- Tick labels ----------------
const epochTicks = [0,25,50,75,100];
const angleTicks = [0,20,40,60,80];
const fwd01Ticks = [-0.1,0,0.1], fwd01Labels = ['-0.1','0','0.1'];
const fwd012Ticks = [-0.1,0,0.1,0.2], fwd012Labels = ['-0.1','0','0.1','0.2'];
const fwd03Ticks = [-0.3,0,0.3], fwd03Labels = ['-0.3','0','0.3'];
const fwd006Ticks = [-0.06,0,0.06], fwd006Labels = ['-0.06','0','0.06'];
const r2p1YTicks = [-5,0,5,10], r2p1YLabels = ['-5','0','5','10'];
const pm2Ticks = [-2,0,2], pm2Labels = ['-2','0','2'];
const pm10Ticks = [-10,0,10], pm10Labels = ['-10','0','10'];
const r3p1YTicks = [-2,0,2,4], r3p1YLabels = ['-2','0','2','4'];
const r3p2YTicks = [-7.5,0,7.5], r3p2YLabels = ['-7.5','0','7.5'];
const pm02Ticks = [-0.2,0,0.2], pm02Labels = ['-0.2','0','0.2'];

// ---------------- Build figure ----------------
const W = 1063, H = 692;
const FONT = 'Liberation Serif, Times New Roman, serif';
const RED = '#ff0000', BLUE = '#0000ff';
const RED_BAND = 'rgba(255,0,0,0.12)', BLUE_BAND = 'rgba(0,0,255,0.10)';
const AXC = '#222';
const xid = k => k === 1 ? 'x' : 'x' + k;
const yid = k => k === 1 ? 'y' : 'y' + k;
const xkey = k => k === 1 ? 'xaxis' : 'xaxis' + k;
const ykey = k => k === 1 ? 'yaxis' : 'yaxis' + k;

const traces = [];
function band(ep, lo, hi, color, k) {
  traces.push({type:'scatter', mode:'lines', x: ep.concat(ep.slice().reverse()), y: hi.concat(lo.slice().reverse()),
    fill:'toself', fillcolor: color, line:{width:0}, hoverinfo:'skip', showlegend:false, xaxis:xid(k), yaxis:yid(k)});
}
function bandSd(ep, mean, sd, color, k) {
  band(ep, mean.map((m,i)=>m-sd[i]), mean.map((m,i)=>m+sd[i]), color, k);
}
function line(ep, vals, color, k, w) {
  traces.push({type:'scatter', mode:'lines', x: ep, y: vals, line:{color: color, width: w || 1.3}, showlegend:false, xaxis:xid(k), yaxis:yid(k)});
}
function scat(pts, color, k, name, legend) {
  traces.push({type:'scatter', mode:'markers', x: pts.map(p=>p[0]), y: pts.map(p=>p[1]), name: name,
    marker:{color: color, size: 5}, showlegend: !!legend, legend: legend || 'legend', xaxis:xid(k), yaxis:yid(k)});
}

// Row 1
bandSd(p1Epochs, p1NoSleep, p1NoSleepSd, RED_BAND, 1);
bandSd(p1Epochs, p1Sleep, p1SleepSd, BLUE_BAND, 1);
line(p1Epochs, p1NoSleep, RED, 1);
line(p1Epochs, p1Sleep, BLUE, 1);

bandSd(p2Epochs, p2NoSleep, p2NoSleepSd, RED_BAND, 2);
band(p2SleepBandEpochs, p2SleepBandLo, p2SleepBandHi, BLUE_BAND, 2);
line(p2Epochs, p2NoSleep, RED, 2);
line(p2SleepEpochs, p2Sleep, BLUE, 2);

bandSd(p3NoSleepEpochs, p3NoSleep, p3NoSleepSd, RED_BAND, 3);
bandSd(p3SleepEpochs, p3Sleep, p3SleepSd, BLUE_BAND, 3);
line(p3NoSleepEpochs, p3NoSleep, RED, 3);
line(p3SleepEpochs, p3Sleep, BLUE, 3);

bandSd(p4NoSleepEpochs, p4NoSleep, p4NoSleepSd, RED_BAND, 4);
band(p4SleepBandEpochs, p4SleepBandLo, p4SleepBandHi, BLUE_BAND, 4);
line(p4NoSleepEpochs, p4NoSleep, RED, 4);
line(p4SleepEpochs, p4Sleep, BLUE, 4, 2.4);

// legend entries for row 1
traces.push({type:'scatter', mode:'lines', x:[null], y:[null], name:'No Sleep', line:{color:RED, width:4}, legend:'legend', xaxis:'x', yaxis:'y'});
traces.push({type:'scatter', mode:'lines', x:[null], y:[null], name:'Sleep', line:{color:BLUE, width:4}, legend:'legend', xaxis:'x', yaxis:'y'});

// Row 2
scat(r2p1Sleep, BLUE, 5, 'Sleep', 'legend2');
scat(r2p2Sleep, BLUE, 6);
scat(r2p3Sleep, BLUE, 7);
scat(r2p4Sleep, BLUE, 8);
// Row 3
scat(r3p1NoSleep, RED, 9, 'No Sleep', 'legend3');
scat(r3p2NoSleep, RED, 10);
scat(r3p3NoSleep, RED, 11);
scat(r3p4NoSleep, RED, 12);

// Layout geometry (pixels)
const rowsY = [[257,83],[471,312],[652,494]];
const colsX = [
  [[60,292],[314,546],[569,801],[824,1056]],
  [[59,280],[317,542],[581,802],[839,1057]],
  [[59,280],[317,542],[581,801],[838,1057]]
];

function baseAxis(dom) {
  return {domain: dom, showline:true, mirror:true, linecolor:AXC, linewidth:1.3, ticks:'outside', ticklen:4, tickwidth:1.1,
    tickcolor:AXC, showgrid:false, zeroline:false, fixedrange:true,
    tickfont:{family:FONT, size:16, color:'#111'}};
}
const layout = {
  width: W, height: H, margin:{l:0,r:0,t:0,b:0}, paper_bgcolor:'#fff', plot_bgcolor:'#fff',
  font:{family:FONT, color:'#111'}, showlegend:true,
  legend:{x:194/W, y:1-85/H, xanchor:'left', yanchor:'top', bgcolor:'rgba(0,0,0,0)', font:{family:FONT,size:13,color:'#111'}, tracegroupgap:0},
  legend2:{x:46/W, y:1-310/H, xanchor:'left', yanchor:'top', bgcolor:'rgba(0,0,0,0)', font:{family:FONT,size:13,color:'#111'}},
  legend3:{x:46/W, y:1-493/H, xanchor:'left', yanchor:'top', bgcolor:'rgba(0,0,0,0)', font:{family:FONT,size:13,color:'#111'}},
  annotations: []
};

// Row 1 panels
for (let c = 0; c < 4; c++) {
  const k = c + 1;
  const xa = baseAxis([colsX[0][c][0]/W, colsX[0][c][1]/W]);
  xa.anchor = yid(k); xa.range = c === 3 ? [-4.8, 100.8] : [-5, 105];
  xa.tickmode = 'array'; xa.tickvals = epochTicks; xa.ticktext = epochTicks.map(String);
  xa.ticklabelstandoff = -7;
  xa.title = {text:'Training Epochs', font:{family:FONT, size:16, color:'#111'}, standoff:6};
  const ya = baseAxis([1-rowsY[0][0]/H, 1-rowsY[0][1]/H]);
  ya.anchor = xid(k); ya.range = [0, 90.5];
  ya.tickmode = 'array'; ya.tickvals = angleTicks; ya.ticktext = angleTicks.map(String);
  ya.showticklabels = (c === 0);
  if (c === 0) ya.title = {text:'Angle [degrees]', font:{family:FONT, size:16, color:'#111'}, standoff:7};
  layout[xkey(k)] = xa; layout[ykey(k)] = ya;
}

const scatterAxes = [
  // row 2
  {xr:[-0.191,0.227], xt:fwd012Ticks, xl:fwd012Labels, xm:0.05, yr:[-9.6,13.1], yt:r2p1YTicks, yl:r2p1YLabels, ym:2.5},
  {xr:[-0.129,0.130], xt:fwd01Ticks, xl:fwd01Labels, xm:0.05, yr:[-3.2,3.27], yt:pm2Ticks, yl:pm2Labels, ym:1},
  {xr:[-0.149,0.195], xt:fwd01Ticks, xl:fwd01Labels, xm:0.05, yr:[-14.2,17.7], yt:pm10Ticks, yl:pm10Labels, ym:5},
  {xr:[-0.135,0.144], xt:fwd01Ticks, xl:fwd01Labels, xm:0.05, yr:[-3.24,3.48], yt:pm2Ticks, yl:pm2Labels, ym:1},
  // row 3
  {xr:[-0.191,0.227], xt:fwd012Ticks, xl:fwd012Labels, xm:0.05, yr:[-3.79,5.22], yt:r3p1YTicks, yl:r3p1YLabels, ym:1},
  {xr:[-0.392,0.395], xt:fwd03Ticks, xl:fwd03Labels, xm:0.15, yr:[-12.15,12.2], yt:r3p2YTicks, yl:r3p2YLabels, ym:3.75},
  {xr:[-0.0995,0.129], xt:fwd006Ticks, xl:fwd006Labels, xm:0.03, yr:[-0.28,0.353], yt:pm02Ticks, yl:pm02Labels, ym:0.1},
  {xr:[-0.1425,0.152], xt:fwd01Ticks, xl:fwd01Labels, xm:0.05, yr:[-0.321,0.351], yt:pm02Ticks, yl:pm02Labels, ym:0.1}
];
scatterAxes.forEach((cfg, i) => {
  const r = i < 4 ? 1 : 2, c = i % 4, k = 5 + i;
  const xa = baseAxis([colsX[r][c][0]/W, colsX[r][c][1]/W]);
  xa.anchor = yid(k); xa.range = cfg.xr; xa.tickmode = 'array'; xa.tickvals = cfg.xt; xa.ticktext = cfg.xl;
  xa.ticklabelstandoff = -7;
  xa.minor = {ticks:'outside', ticklen:2.5, tickwidth:1, tickcolor:AXC, tickmode:'linear', tick0:0, dtick:cfg.xm, showgrid:false};
  const ya = baseAxis([1-rowsY[r][0]/H, 1-rowsY[r][1]/H]);
  ya.anchor = xid(k); ya.range = cfg.yr; ya.tickmode = 'array'; ya.tickvals = cfg.yt; ya.ticktext = cfg.yl;
  ya.minor = {ticks:'outside', ticklen:2.5, tickwidth:1, tickcolor:AXC, tickmode:'linear', tick0:0, dtick:cfg.ym, showgrid:false};
  if (r === 2) xa.title = {text:'Forward Weights', font:{family:FONT, size:16, color:'#111'}, standoff:4};
  if (c === 0) ya.title = {text:'Feedback Weights', font:{family:FONT, size:16, color:'#111'}, standoff: r === 1 ? 8 : 13};
  layout[xkey(k)] = xa; layout[ykey(k)] = ya;
});

function ann(text, px, py, size, xanchor) {
  layout.annotations.push({text: text, x: px/W, y: 1-py/H, xref:'paper', yref:'paper', showarrow:false,
    xanchor: xanchor || 'center', yanchor:'middle', font:{family:FONT, size:size, color:'#111'}});
}
ann('Feedback initialized to initial feedforward weights', 290, 18, 20.5);
ann('Feedback initialized to random weights', 816, 18, 20.5);
ann('1<sup>st</sup> Hidden Layer', 166, 56, 20.5);
ann('2<sup>nd</sup> Hidden Layer', 415, 56, 20.5);
ann('1<sup>st</sup> Hidden Layer', 684, 56, 20.5);
ann('2<sup>nd</sup> Hidden Layer', 939, 56, 20.5);
ann('x10<sup>-2</sup>', 53, 492, 16, 'right');
ann('x10<sup>-2</sup>', 311, 492, 16, 'right');

Plotly.newPlot('chart', traces, layout, {displayModeBar:false, staticPlot:true});
</script>
</body>
</html>
